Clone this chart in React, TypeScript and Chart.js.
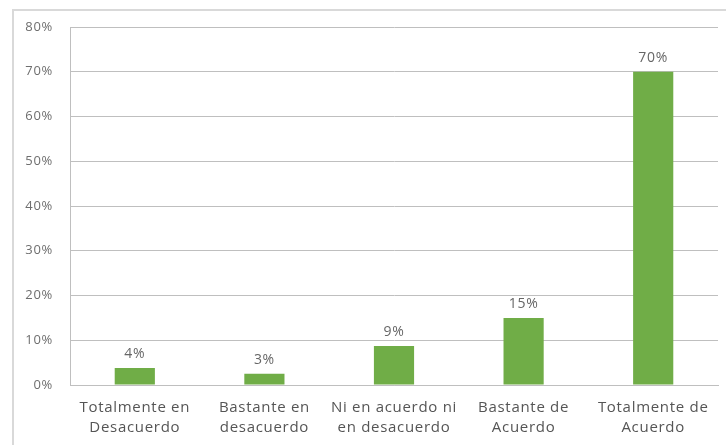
import React, { useEffect, useRef } from "react";
import { Chart, registerables } from "chart.js";

Chart.register(...registerables);

const categories: string[][] = [
  ["Totalmente en", "Desacuerdo"],
  ["Bastante en", "desacuerdo"],
  ["Ni en acuerdo ni", "en desacuerdo"],
  ["Bastante de", "Acuerdo"],
  ["Totalmente de", "Acuerdo"],
];
const values: number[] = [3.8, 2.5, 8.7, 15, 70];
const valueLabels: string[] = ["4%", "3%", "9%", "15%", "70%"];
const yMax = 80;
const yStep = 10;

const FONT = "'Open Sans', 'Liberation Sans', sans-serif";

const spacingPlugin = {
  id: "letterSpacing",
  beforeDraw(chart: any) {
    (chart.ctx as any).letterSpacing = "0.7px";
  },
};

const dataLabelPlugin = {
  id: "dataLabels",
  afterDatasetsDraw(chart: any) {
    const ctx = chart.ctx;
    const meta = chart.getDatasetMeta(0);
    ctx.save();
    ctx.font = `14px ${FONT}`;
    ctx.fillStyle = "#666666";
    ctx.textAlign = "center";
    ctx.textBaseline = "bottom";
    meta.data.forEach((el: any, i: number) => {
      ctx.fillText(valueLabels[i], el.x, el.y - 7);
    });
    ctx.restore();
  },
};

export default function App() {
  const ref = useRef<HTMLCanvasElement | null>(null);
  useEffect(() => {
    if (!ref.current) return;
    const chart = new Chart(ref.current, {
      type: "bar",
      data: {
        labels: categories,
        datasets: [
          {
            data: values,
            backgroundColor: "#70ad47",
            borderWidth: 0,
            categoryPercentage: 1,
            barPercentage: 0.31,
          },
        ],
      },
      options: {
        animation: false,
        responsive: false,
        maintainAspectRatio: false,
        layout: { padding: { left: 0, top: 27, right: 8, bottom: 0 } },
        plugins: {
          legend: { display: false },
          tooltip: { enabled: false },
        },
        scales: {
          x: {
            grid: { display: false, drawTicks: false },
            border: { display: true, color: "#bfbfbf", width: 1 },
            ticks: {
              color: "#555555",
              font: { family: FONT, size: 15, lineHeight: 1.38 },
              padding: 12,
              maxRotation: 0,
              autoSkip: false,
            },
            afterFit(scale: any) {
              scale.height = 60;
            },
          },
          y: {
            min: 0,
            max: yMax,
            grid: { color: "#bfbfbf", drawTicks: false, lineWidth: 1 },
            border: { display: true, color: "#bfbfbf", width: 1 },
            ticks: {
              stepSize: yStep,
              color: "#6e6e6e",
              font: { family: FONT, size: 13 },
              padding: 17,
              callback: (v: any) => `${v}%`,
            },
            afterFit(scale: any) {
              scale.width = 70;
            },
          },
        },
      },
      plugins: [spacingPlugin, dataLabelPlugin],
    });
    return () => chart.destroy();
  }, []);

  return (
    <div
      style={{
        position: "fixed",
        left: 0,
        top: 0,
        width: 726,
        height: 445,
        background: "#ffffff",
        overflow: "hidden",
      }}
    >
      <div
        style={{
          position: "absolute",
          left: 12,
          top: 9,
          right: 0,
          bottom: 0,
          borderLeft: "2px solid #d9d9d9",
          borderTop: "2px solid #d9d9d9",
        }}
      />
      <canvas
        ref={ref}
        width={726}
        height={445}
        style={{ position: "absolute", left: 0, top: 0, width: 726, height: 445 }}
      />
    </div>
  );
}
